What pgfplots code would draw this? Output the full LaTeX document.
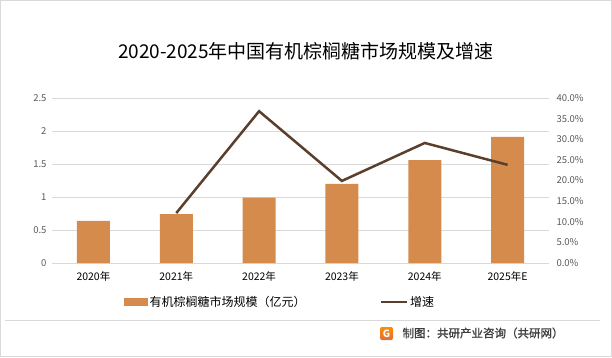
\documentclass[border=0pt]{standalone}
\usepackage{pgfplots}
\pgfplotsset{compat=1.18}
\usepackage{fontspec}
\setmainfont{Noto Sans CJK SC}
\newfontfamily\cjkbold[FakeBold=1.2]{Noto Sans CJK SC}
\definecolor{barc}{HTML}{D58B4C}
\definecolor{linec}{HTML}{5B3F2D}
\definecolor{gridc}{HTML}{D9D9D9}
\definecolor{tickc}{HTML}{595959}
\begin{document}
\begin{tikzpicture}[x=1pt,y=1pt]
\path[use as bounding box] (0,0) rectangle (612,357);
\draw[gridc, line width=0.8pt] (0.5,0.5) rectangle (611.5,356.5);
\draw[gridc, line width=0.6pt] (5,37) -- (600,37);
\node[font=\fontsize{19}{21}\selectfont] at (306,306) {2020-2025年中国有机棕榈糖市场规模及增速};
\begin{axis}[
  at={(52pt,94pt)}, anchor=south west, scale only axis,
  width=497pt, height=165pt,
  xmin=-0.5, xmax=5.5, ymin=0, ymax=2.5,
  xtick={0,...,5}, xticklabels={2020年,2021年,2022年,2023年,2024年,2025年E},
  ytick={0,0.5,1,1.5,2,2.5},
  /pgf/number format/assume math mode=true,
  axis line style={draw=none}, tick style={draw=none},
  ymajorgrids, grid style={gridc, line width=0.6pt},
  xticklabel style={font=\fontsize{10.5}{12}\selectfont, black, yshift=-5pt},
  yticklabel style={font=\fontsize{9.5}{11}\selectfont, text=tickc, xshift=-2pt},
]
\addplot[ybar, bar width=33pt, fill=barc, draw=none] coordinates {
(0,0.64) (1,0.74) (2,0.99) (3,1.20) (4,1.56) (5,1.91)};
\end{axis}
\begin{axis}[
  at={(52pt,94pt)}, anchor=south west, scale only axis,
  width=497pt, height=165pt,
  xmin=-0.5, xmax=5.5, ymin=0, ymax=40,
  axis y line*=right, axis x line=none,
  ytick={0,5,...,40},
  yticklabel={\pgfmathprintnumber[fixed,fixed zerofill,precision=1]{\tick}\%},
  /pgf/number format/assume math mode=true,
  axis line style={draw=none}, tick style={draw=none},
  yticklabel style={font=\fontsize{9.5}{11}\selectfont, text=tickc, anchor=west, xshift=4pt},
  legend columns=2,
  legend style={at={(0.459,-0.236)}, anchor=center, draw=none, fill=none,
    font=\fontsize{12}{14}\selectfont, /tikz/every even column/.append style={column sep=72pt}},
]
\addlegendimage{legend image code/.code={\fill[barc] (0pt,-3.5pt) rectangle (23pt,3.5pt);}}
\addlegendentry{有机棕榈糖市场规模（亿元）}
\addplot[linec, line width=2.5pt, mark=none, legend image code/.code={\draw[linec, line width=2.5pt] (0pt,0pt) -- (26pt,0pt);}] coordinates {
(1,12.1) (2,36.8) (3,19.9) (4,29.1) (5,23.8)};
\addlegendentry{增速}
\end{axis}
\shade[top color=orange!90!yellow, bottom color=barc!80!red, rounded corners=2pt] (380,17) rectangle (393,30);
\node[white, font=\fontsize{10}{10}\selectfont\bfseries] at (386.5,23.5) {G};
\node[anchor=west, text=tickc!70!black, font=\cjkbold\fontsize{11.5}{14}\selectfont] at (399,24) {制图：共研产业咨询（共研网）};
\end{tikzpicture}
\end{document}
